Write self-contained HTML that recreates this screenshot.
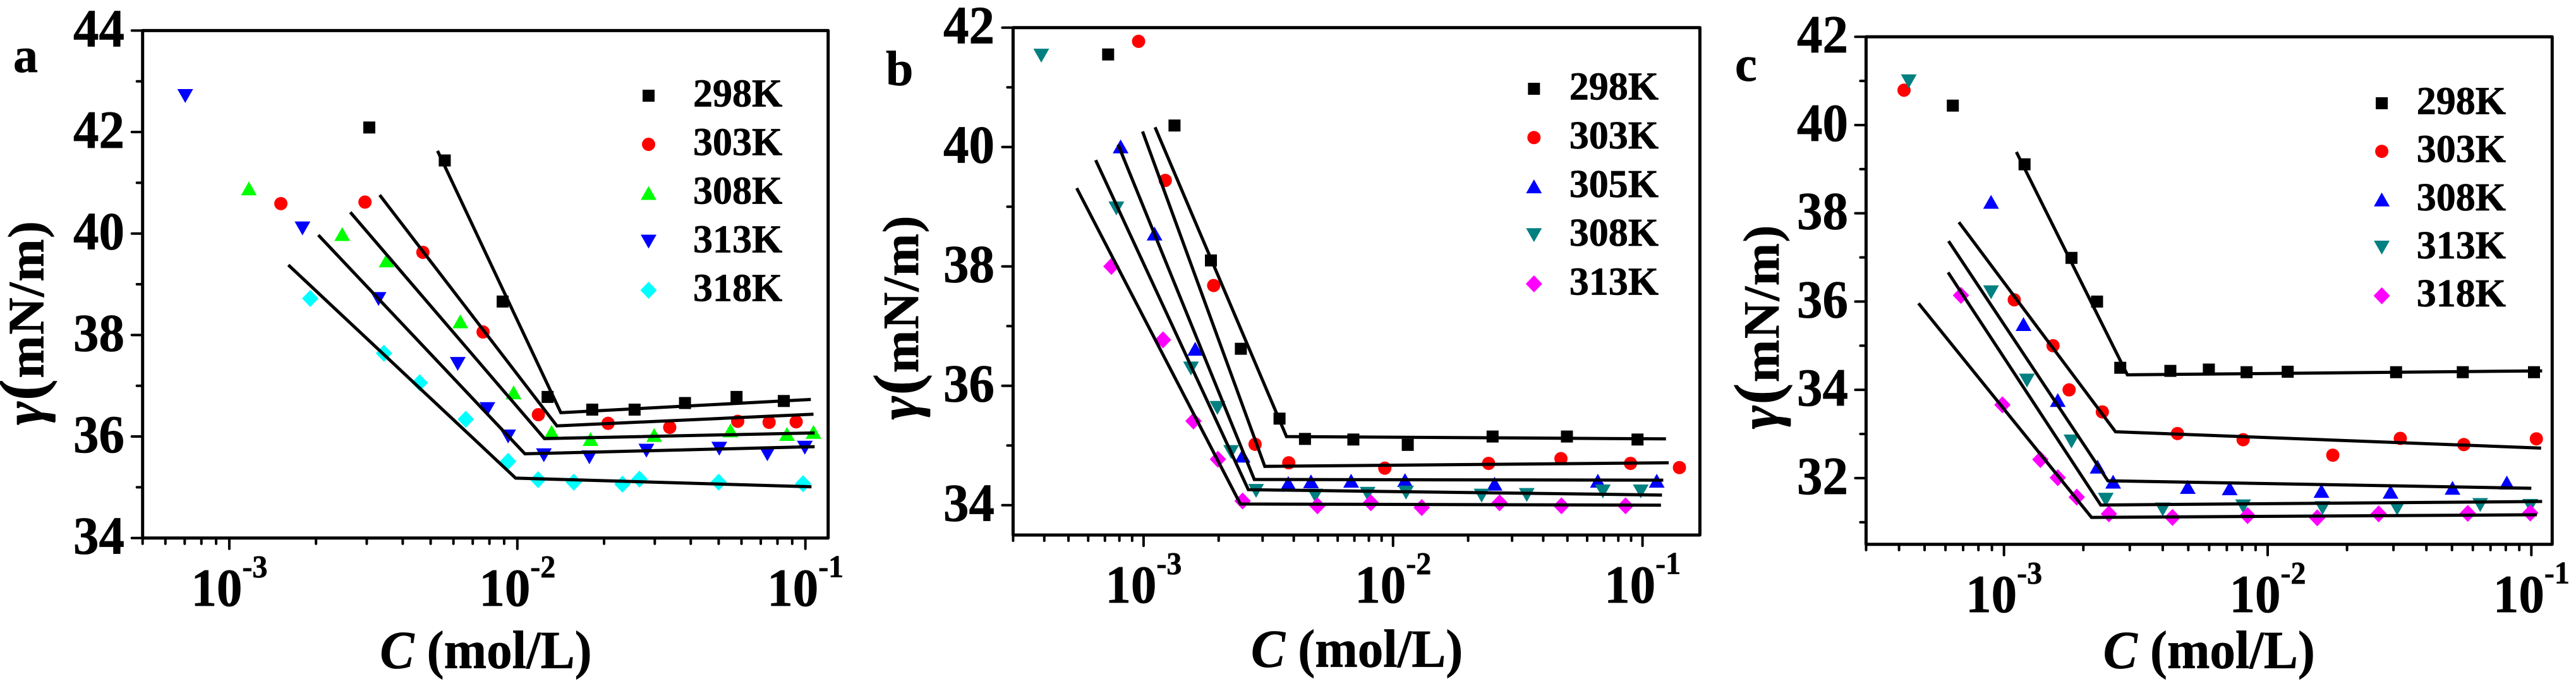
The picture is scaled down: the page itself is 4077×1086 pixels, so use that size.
<!DOCTYPE html>
<html lang="en">
<head>
<meta charset="utf-8">
<title>Surface tension versus concentration</title>
<style>
html,body{margin:0;padding:0;background:#fff;}
svg{display:block;}
text{font-family:"Liberation Serif","DejaVu Serif",serif;font-weight:bold;fill:#000;stroke:#000;stroke-width:0.7px;}
</style>
</head>
<body>
<svg id="figure" xmlns="http://www.w3.org/2000/svg" width="4077" height="1086" viewBox="0 0 4077 1086"></svg>
<script>
// ---------- shared tick data ----------
const xDecadeExponents = [-3, -2, -1];
const minorMultipliers = [2, 3, 4, 5, 6, 7, 8, 9];

// ---------- panel a ----------
const tempsA = ['298K', '303K', '308K', '313K', '318K'];
const yTicksA = [34, 36, 38, 40, 42, 44];
const a298LogC = [-2.514, -2.252, -2.051, -1.895, -1.740, -1.593, -1.418, -1.239, -1.075];
const a298Gamma = [42.09, 41.44, 38.66, 36.78, 36.53, 36.53, 36.66, 36.78, 36.70];
const a303LogC = [-2.821, -2.529, -2.328, -2.119, -1.927, -1.685, -1.471, -1.235, -1.126, -1.032];
const a303Gamma = [40.59, 40.62, 39.63, 38.06, 36.43, 36.26, 36.18, 36.30, 36.28, 36.29];
const a308LogC = [-2.932, -2.608, -2.454, -2.198, -2.013, -1.881, -1.746, -1.525, -1.260, -1.064, -0.972];
const a308Gamma = [40.89, 39.99, 39.47, 38.27, 36.87, 36.09, 35.95, 36.03, 36.12, 36.05, 36.09];
const a313LogC = [-3.153, -2.746, -2.482, -2.207, -2.104, -2.032, -1.908, -1.750, -1.552, -1.299, -1.132, -1.002];
const a313Gamma = [42.71, 40.10, 38.71, 37.43, 36.54, 36.00, 35.63, 35.59, 35.72, 35.76, 35.65, 35.78];
const a318LogC = [-2.719, -2.463, -2.339, -2.179, -2.032, -1.928, -1.804, -1.635, -1.576, -1.301, -1.008];
const a318Gamma = [38.72, 37.64, 37.06, 36.34, 35.51, 35.15, 35.10, 35.06, 35.16, 35.10, 35.07];
const a298FitLogC = [-2.277, -1.849, -0.981];
const a298FitGamma = [41.63, 36.47, 36.73];
const a303FitLogC = [-2.478, -1.863, -0.972];
const a303FitGamma = [40.76, 36.21, 36.44];
const a308FitLogC = [-2.580, -1.906, -0.968];
const a308FitGamma = [40.42, 35.96, 36.07];
const a313FitLogC = [-2.691, -1.974, -0.968];
const a313FitGamma = [39.97, 35.66, 35.80];
const a318FitLogC = [-2.795, -2.006, -0.979];
const a318FitGamma = [39.38, 35.18, 35.01];

// ---------- panel b ----------
const tempsB = ['298K', '303K', '305K', '308K', '313K'];
const yTicksB = [34, 36, 38, 40, 42];
const b298LogC = [-3.142, -2.876, -2.730, -2.610, -2.455, -2.353, -2.159, -1.941, -1.601, -1.303, -1.020];
const b298Gamma = [41.55, 40.36, 38.10, 36.62, 35.45, 35.11, 35.10, 35.01, 35.15, 35.15, 35.10];
const b303LogC = [-3.020, -2.913, -2.719, -2.553, -2.418, -2.033, -1.617, -1.327, -1.048, -0.852];
const b303Gamma = [41.77, 39.44, 37.68, 35.02, 34.71, 34.62, 34.70, 34.78, 34.70, 34.63];
const b305LogC = [-3.092, -2.956, -2.793, -2.603, -2.420, -2.329, -2.168, -1.952, -1.593, -1.179, -0.943];
const b305Gamma = [40.01, 38.55, 36.62, 34.83, 34.37, 34.40, 34.41, 34.42, 34.36, 34.41, 34.41];
const b308LogC = [-3.410, -3.109, -2.810, -2.704, -2.649, -2.549, -2.312, -2.102, -1.948, -1.645, -1.464, -1.159, -1.007];
const b308Gamma = [41.53, 38.97, 36.29, 35.63, 34.89, 34.24, 34.16, 34.19, 34.21, 34.16, 34.17, 34.23, 34.23];
const b313LogC = [-3.129, -2.922, -2.800, -2.702, -2.603, -2.303, -2.089, -1.885, -1.573, -1.325, -1.068];
const b313Gamma = [38.00, 36.77, 35.41, 34.77, 34.07, 33.99, 34.04, 33.96, 34.04, 33.99, 33.99];
const b298FitLogC = [-2.954, -2.427, -0.906];
const b298FitGamma = [40.33, 35.15, 35.11];
const b303FitLogC = [-3.004, -2.514, -0.895];
const b303FitGamma = [40.26, 34.65, 34.71];
const b305FitLogC = [-3.102, -2.556, -0.917];
const b305FitGamma = [40.04, 34.43, 34.42];
const b308FitLogC = [-3.192, -2.580, -0.922];
const b308FitGamma = [39.78, 34.26, 34.17];
const b313FitLogC = [-3.268, -2.612, -0.926];
const b313FitGamma = [39.31, 34.02, 34.00];

// ---------- panel c ----------
const tempsC = ['298K', '303K', '308K', '313K', '318K'];
const yTicksC = [32, 34, 36, 38, 40, 42];
const c298LogC = [-3.194, -2.922, -2.744, -2.647, -2.559, -2.369, -2.223, -2.080, -1.924, -1.513, -1.260, -0.990];
const c298Gamma = [40.44, 39.11, 36.99, 36.00, 34.50, 34.43, 34.46, 34.40, 34.41, 34.40, 34.40, 34.40];
const c303LogC = [-3.379, -2.961, -2.814, -2.753, -2.627, -2.342, -2.093, -1.753, -1.497, -1.256, -0.981];
const c303Gamma = [40.79, 36.04, 35.00, 34.00, 33.50, 33.01, 32.87, 32.52, 32.90, 32.76, 32.89];
const c308LogC = [-3.049, -2.926, -2.796, -2.645, -2.586, -2.303, -2.144, -1.796, -1.534, -1.299, -1.093];
const c308Gamma = [38.26, 35.49, 33.77, 32.26, 31.92, 31.80, 31.77, 31.71, 31.69, 31.78, 31.90];
const c313LogC = [-3.361, -3.049, -2.913, -2.744, -2.614, -2.398, -2.093, -1.792, -1.509, -1.194, -1.004];
const c313Gamma = [40.99, 36.21, 34.21, 32.83, 31.51, 31.29, 31.36, 31.32, 31.31, 31.39, 31.37];
const c318LogC = [-3.163, -3.006, -2.862, -2.796, -2.724, -2.602, -2.361, -2.076, -1.812, -1.579, -1.241, -1.004];
const c318Gamma = [36.14, 33.66, 32.42, 32.01, 31.57, 31.19, 31.11, 31.15, 31.10, 31.19, 31.20, 31.21];
const c298FitLogC = [-2.953, -2.532, -0.959];
const c298FitGamma = [39.39, 34.34, 34.43];
const c303FitLogC = [-3.171, -2.577, -0.963];
const c303FitGamma = [37.80, 33.05, 32.68];
const c308FitLogC = [-3.210, -2.606, -1.000];
const c308FitGamma = [37.37, 31.94, 31.77];
const c313FitLogC = [-3.212, -2.633, -0.959];
const c313FitGamma = [36.66, 31.39, 31.47];
const c318FitLogC = [-3.324, -2.668, -0.979];
const c318FitGamma = [35.96, 31.11, 31.17];

// ---------- series styling (no data here) ----------
const panels = [
  {
    id: 'a', letterX: 21, letterY: 114,
    left: 225.7, right: 1310.7, top: 48.4, bottom: 851.7,
    xMin: -3.301, xMax: -0.921, yMin: 34, yMax: 44, yTicks: yTicksA,
    yLabelX: 197, xLabelY: 959, xTitleX: 769, xTitleY: 1057.7, yTitleX: 68.5, yTitleY: 511.5,
    legendMarkerX: 1026.5, legendY: 151.5, legendStep: 77, legendTextX: 1097,
    series: [
      {label: tempsA[0], color: '#000000', shape: 'square', logC: a298LogC, gamma: a298Gamma, fitX: a298FitLogC, fitY: a298FitGamma},
      {label: tempsA[1], color: '#ff0000', shape: 'circle', logC: a303LogC, gamma: a303Gamma, fitX: a303FitLogC, fitY: a303FitGamma},
      {label: tempsA[2], color: '#00ff00', shape: 'up', logC: a308LogC, gamma: a308Gamma, fitX: a308FitLogC, fitY: a308FitGamma},
      {label: tempsA[3], color: '#0000ff', shape: 'down', logC: a313LogC, gamma: a313Gamma, fitX: a313FitLogC, fitY: a313FitGamma},
      {label: tempsA[4], color: '#00ffff', shape: 'diamond', logC: a318LogC, gamma: a318Gamma, fitX: a318FitLogC, fitY: a318FitGamma}
    ]
  },
  {
    id: 'b', letterX: 1402, letterY: 135,
    left: 1603.4, right: 2690.4, top: 43.7, bottom: 847,
    xMin: -3.523, xMax: -0.77, yMin: 33.5, yMax: 42, yTicks: yTicksB,
    yLabelX: 1574, xLabelY: 954, xTitleX: 2147.6, xTitleY: 1055.5, yTitleX: 1453, yTitleY: 503,
    legendMarkerX: 2427.8, legendY: 140.6, legendStep: 77.2, legendTextX: 2483.7,
    series: [
      {label: tempsB[0], color: '#000000', shape: 'square', logC: b298LogC, gamma: b298Gamma, fitX: b298FitLogC, fitY: b298FitGamma},
      {label: tempsB[1], color: '#ff0000', shape: 'circle', logC: b303LogC, gamma: b303Gamma, fitX: b303FitLogC, fitY: b303FitGamma},
      {label: tempsB[2], color: '#0000ff', shape: 'up', logC: b305LogC, gamma: b305Gamma, fitX: b305FitLogC, fitY: b305FitGamma},
      {label: tempsB[3], color: '#008080', shape: 'down', logC: b308LogC, gamma: b308Gamma, fitX: b308FitLogC, fitY: b308FitGamma},
      {label: tempsB[4], color: '#ff00ff', shape: 'diamond', logC: b313LogC, gamma: b313Gamma, fitX: b313FitLogC, fitY: b313FitGamma}
    ]
  },
  {
    id: 'c', letterX: 2746, letterY: 128,
    left: 2953.4, right: 4039.3, top: 58.2, bottom: 861.7,
    xMin: -3.523, xMax: -0.921, yMin: 30.5, yMax: 42, yTicks: yTicksC,
    yLabelX: 2925, xLabelY: 969, xTitleX: 3496.3, xTitleY: 1057.7, yTitleX: 2815, yTitleY: 518,
    legendMarkerX: 3769.6, legendY: 163.4, legendStep: 76.2, legendTextX: 3824.7,
    series: [
      {label: tempsC[0], color: '#000000', shape: 'square', logC: c298LogC, gamma: c298Gamma, fitX: c298FitLogC, fitY: c298FitGamma},
      {label: tempsC[1], color: '#ff0000', shape: 'circle', logC: c303LogC, gamma: c303Gamma, fitX: c303FitLogC, fitY: c303FitGamma},
      {label: tempsC[2], color: '#0000ff', shape: 'up', logC: c308LogC, gamma: c308Gamma, fitX: c308FitLogC, fitY: c308FitGamma},
      {label: tempsC[3], color: '#008080', shape: 'down', logC: c313LogC, gamma: c313Gamma, fitX: c313FitLogC, fitY: c313FitGamma},
      {label: tempsC[4], color: '#ff00ff', shape: 'diamond', logC: c318LogC, gamma: c318Gamma, fitX: c318FitLogC, fitY: c318FitGamma}
    ]
  }
];

// ---------- drawing ----------
const NS = 'http://www.w3.org/2000/svg';
const figure = document.getElementById('figure');
const TALL = ') scale(1,1.04)';

function make(tag, attrs, parent) {
  const node = document.createElementNS(NS, tag);
  for (const key in attrs) node.setAttribute(key, attrs[key]);
  parent.appendChild(node);
  return node;
}

function drawMarker(shape, color, cx, cy, parent, name) {
  let el;
  if (shape === 'square') {
    el = make('rect', {x: cx - 9.5, y: cy - 9.5, width: 19, height: 19, fill: color}, parent);
  } else if (shape === 'circle') {
    el = make('ellipse', {cx: cx, cy: cy, rx: 10.5, ry: 10.5, fill: color}, parent);
  } else if (shape === 'up') {
    el = make('polygon', {points: [cx, cy - 11, cx + 12.5, cy + 11, cx - 12.5, cy + 11].join(' '), fill: color}, parent);
  } else if (shape === 'down') {
    el = make('polygon', {points: [cx - 12.5, cy - 11, cx + 12.5, cy - 11, cx, cy + 11].join(' '), fill: color}, parent);
  } else {
    el = make('polygon', {points: [cx, cy - 13.5, cx + 13, cy, cx, cy + 13.5, cx - 13, cy].join(' '), fill: color}, parent);
  }
  
  
}

function drawPanel(p) {
  const xScale = v => p.left + (v - p.xMin) / (p.xMax - p.xMin) * (p.right - p.left);
  const yScale = v => p.bottom - (v - p.yMin) / (p.yMax - p.yMin) * (p.bottom - p.top);

  const g = make('g', {}, figure);
  
  

  const letter = make('text', {x: p.letterX, y: p.letterY, 'font-size': 78}, g);
  letter.textContent = p.id;
  
  

  // markers
  p.series.forEach(s => {
    const sg = make('g', {}, g);
    
    
    s.logC.forEach((lc, i) => {
      drawMarker(s.shape, s.color, xScale(lc), yScale(s.gamma[i]), sg, 'point-' + s.label);
    });
  });

  // fit lines
  p.series.forEach(s => {
    const pts = s.fitX.map((lc, i) => xScale(lc).toFixed(1) + ',' + yScale(s.fitY[i]).toFixed(1)).join(' ');
    const line = make('polyline', {points: pts, fill: 'none', stroke: '#000', 'stroke-width': 5, 'stroke-linejoin': 'miter'}, g);
    
    
  });

  // frame
  const frame = make('rect', {x: p.left, y: p.top, width: p.right - p.left, height: p.bottom - p.top, fill: 'none', stroke: '#000', 'stroke-width': 5, 'stroke-linejoin': 'round'}, g);
  
  

  // y ticks
  for (let v = Math.ceil(p.yMin); v <= p.yMax; v++) {
    const isMajor = p.yTicks.includes(v);
    const y = yScale(v);
    const tick = make('line', {x1: p.left, x2: p.left - (isMajor ? 17 : 9), y1: y, y2: y, stroke: '#000', 'stroke-width': 4, 'stroke-linecap': 'round'}, g);
    
    
  }
  p.yTicks.forEach(v => {
    const label = make('text', {x: 0, y: 0, 'font-size': 81, 'text-anchor': 'end', transform: 'translate(' + p.yLabelX + ',' + (yScale(v) + 25) + TALL}, g);
    label.textContent = v;
    
    
  });

  // x ticks
  for (let e = -4; e <= -1; e++) {
    minorMultipliers.forEach(m => {
      const lv = e + Math.log10(m);
      if (lv < p.xMin - 0.001 || lv > p.xMax + 0.001) return;
      const x = xScale(lv);
      const tick = make('line', {x1: x, x2: x, y1: p.bottom, y2: p.bottom + 9, stroke: '#000', 'stroke-width': 4, 'stroke-linecap': 'round'}, g);
      
      
    });
  }
  xDecadeExponents.forEach(e => {
    const x = xScale(e);
    const tick = make('line', {x1: x, x2: x, y1: p.bottom, y2: p.bottom + 17, stroke: '#000', 'stroke-width': 4, 'stroke-linecap': 'round'}, g);
    
    
    const label = make('text', {x: 0, y: 0, 'font-size': 81, 'text-anchor': 'middle', transform: 'translate(' + x + ',' + p.xLabelY + TALL}, g);
    
    
    const base = make('tspan', {}, label);
    base.textContent = '10';
    const sup = make('tspan', {dy: -44, 'font-size': 48}, label);
    sup.textContent = String(e);
  });

  // axis titles
  const xTitle = make('text', {x: 0, y: 0, 'font-size': 81, 'text-anchor': 'middle', transform: 'translate(' + p.xTitleX + ',' + p.xTitleY + TALL}, g);
  
  
  const cSym = make('tspan', {'font-style': 'italic'}, xTitle);
  cSym.textContent = 'C';
  const cRest = make('tspan', {}, xTitle);
  cRest.textContent = ' (mol/L)';

  const yTitle = make('text', {x: p.yTitleX, y: p.yTitleY, 'font-size': 81, 'text-anchor': 'middle', textLength: 323, lengthAdjust: 'spacing', transform: 'rotate(-90 ' + p.yTitleX + ' ' + p.yTitleY + ')'}, g);
  
  
  const gam = make('tspan', {'font-style': 'italic', 'font-size': 90}, yTitle);
  gam.textContent = 'γ';
  const paren = make('tspan', {'font-size': 102}, yTitle);
  paren.textContent = '(';
  const unit = make('tspan', {}, yTitle);
  unit.textContent = 'mN/m)';

  // legend
  p.series.forEach((s, i) => {
    const ly = p.legendY + i * p.legendStep;
    const lg = make('g', {}, g);
    
    
    drawMarker(s.shape, s.color, p.legendMarkerX, ly, lg, 'legend-marker-' + s.label);
    const t = make('text', {x: p.legendTextX, y: ly + 17, 'font-size': 62}, lg);
    t.textContent = s.label;
    
    
  });
}

panels.forEach(drawPanel);
</script>
</body>
</html>
